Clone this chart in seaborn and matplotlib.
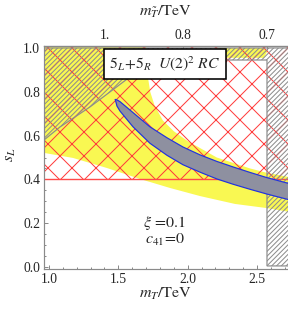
import numpy as np
import matplotlib
matplotlib.use("Agg")
import matplotlib.pyplot as plt
import seaborn as sns

# ---------------- data ----------------
# yellow allowed band: lower and upper boundary
yellow_lo_mT = [0.964, 1.173, 1.418, 1.656, 1.872, 2.089, 2.341, 2.572, 2.738]
yellow_lo_sL = [0.521, 0.498, 0.452, 0.402, 0.361, 0.324, 0.288, 0.269, 0.251]
yellow_hi_mT = [1.700, 1.715, 1.730, 1.760, 1.820, 1.900, 2.000, 2.210, 2.450, 2.572, 2.738]
yellow_hi_sL = [1.010, 0.860, 0.800, 0.740, 0.670, 0.620, 0.575, 0.500, 0.450, 0.430, 0.410]
# small yellow piece at the top right
yellow_top_mT = [2.20, 2.55, 2.575, 2.55, 2.20]
yellow_top_sL = [1.00, 1.00, 0.985, 0.955, 0.955]

# gray hatched excluded region (boundary)
gray_mT = [0.964, 1.079, 1.296, 1.584, 1.800, 2.050, 2.572, 2.572, 2.738, 2.738, 0.964]
gray_sL = [0.580, 0.639, 0.731, 0.868, 0.930, 0.945, 0.945, 0.005, 0.005, 1.000, 1.000]

# red cross-hatched excluded region: s_L above this bound
sL_bound = 0.4

# blue-edged gray band
band_mT = [1.478, 1.490, 1.512, 1.606, 1.728, 1.851, 1.966, 2.089, 2.211, 2.327, 2.449, 2.572, 2.738]
band_up = [0.765, 0.763, 0.755, 0.705, 0.640, 0.590, 0.548, 0.512, 0.482, 0.457, 0.432, 0.408, 0.380]
band_lo = [0.765, 0.735, 0.712, 0.640, 0.565, 0.510, 0.467, 0.433, 0.402, 0.378, 0.355, 0.333, 0.306]

# axes
x_ticks = [1.0, 1.5, 2.0, 2.5]
x_ticklabels = ["1.0", "1.5", "2.0", "2.5"]
y_ticks = [0.0, 0.2, 0.4, 0.6, 0.8, 1.0]
y_ticklabels = ["0.0", "0.2", "0.4", "0.6", "0.8", "1.0"]
top_tick_pos = [1.404, 1.968, 2.574]
top_tick_labels = ["1.", "0.8", "0.7"]
x_range = (0.964, 2.738)
y_range = (-0.009, 1.009)

# ---------------- style ----------------
sns.set_style("ticks")
plt.rcParams["font.family"] = ["Liberation Serif", "DejaVu Serif"]
plt.rcParams["mathtext.fontset"] = "stix"
plt.rcParams["hatch.linewidth"] = 0.5

DPI = 144
W, H = 288, 311
fig = plt.figure(figsize=(W / DPI, H / DPI), dpi=DPI)
ax = fig.add_axes([44 / W, (H - 269) / H, 246 / W, 223 / H])
ax.set_xlim(*x_range)
ax.set_ylim(*y_range)

# yellow band
yx = yellow_lo_mT + yellow_hi_mT[::-1] + [x_range[0]]
yy = yellow_lo_sL + yellow_hi_sL[::-1] + [yellow_hi_sL[0]]
ax.fill(yx, yy, facecolor="#f9f852", edgecolor="none", lw=0, zorder=1)
ax.fill(yellow_top_mT, yellow_top_sL, facecolor="#f9f852", edgecolor="none", lw=0, zorder=1)

# red cross hatch above s_L bound
ax.fill_between([x_range[0], x_range[1]], [sL_bound, sL_bound], [y_range[1], y_range[1]],
                facecolor="none", edgecolor="#ff3b3b", hatch="xx", lw=0, zorder=2)
ax.axhline(sL_bound, color="#ff4a4a", lw=0.7, zorder=3)

# gray hatched region
ax.fill(gray_mT, gray_sL, facecolor="none", edgecolor="#8c8c8c", hatch="//////////",
        lw=0.6, zorder=3)

# band
ax.fill_between(band_mT, band_lo, band_up, facecolor="#8e90a0", edgecolor="none", lw=0, zorder=4)
sns.lineplot(x=band_mT, y=band_up, sort=False, color="#2233dd", lw=0.6, ax=ax, zorder=5)
sns.lineplot(x=band_mT, y=band_lo, sort=False, color="#2233dd", lw=0.6, ax=ax, zorder=5)

# ticks
frame_gray = "#8a8a8a"
ax.set_xticks(x_ticks, x_ticklabels)
ax.set_yticks(y_ticks, y_ticklabels)
ax.xaxis.set_minor_locator(matplotlib.ticker.MultipleLocator(0.1))
ax.yaxis.set_minor_locator(matplotlib.ticker.MultipleLocator(0.05))
ax.tick_params(axis="both", which="major", direction="in", length=2.2, width=0.5,
               color=frame_gray, labelsize=6.8, pad=2)
ax.tick_params(axis="both", which="minor", direction="in", length=1.2, width=0.5,
               color=frame_gray)
for side in ["left", "bottom", "top", "right"]:
    ax.spines[side].set_color(frame_gray)
    ax.spines[side].set_linewidth(0.6)
    ax.spines[side].set_zorder(10)

ax2 = ax.secondary_xaxis("top")
ax2.set_xticks(top_tick_pos, top_tick_labels)
ax2.tick_params(axis="x", which="major", direction="in", length=2.2, width=0.5,
                color=frame_gray, labelsize=6.8, pad=2)
ax2.spines["top"].set_color(frame_gray)
ax2.spines["top"].set_linewidth(0.6)

# labels
ax.set_xlabel(r"$m_T/\mathrm{TeV}$", fontsize=8)
ax.xaxis.set_label_coords((166 - 44) / 246, (269 - 294) / 223)
ax.xaxis.label.set_va("center")
ax.set_ylabel(r"$s_L$", fontsize=8)
ax.yaxis.set_label_coords((10 - 44) / 246, (269 - 155) / 223)
ax.yaxis.label.set_va("center")
fig.text(166 / W, 1 - 12 / H, r"$m_{\tilde{T}}/\mathrm{TeV}$", fontsize=8,
         ha="center", va="center")

# annotations
ax.text(1.836, 0.928, r"$\mathit{5}_L\!+\!\mathit{5}_R\ \ \mathit{U(2)}^2\ \mathit{RC}$",
        fontsize=7.8, ha="center", va="center", zorder=12,
        bbox=dict(boxstyle="square,pad=0.35", facecolor="white", edgecolor="black", lw=0.8))
ax.text(1.836, 0.200, r"$\xi\,=\!\mathit{0.1}$", fontsize=8, ha="center", va="center", zorder=12)
ax.text(1.836, 0.123, r"$c_{41}\!=\!\mathit{0}$", fontsize=8, ha="center", va="center", zorder=12)

fig.savefig("out.png", dpi=DPI)
